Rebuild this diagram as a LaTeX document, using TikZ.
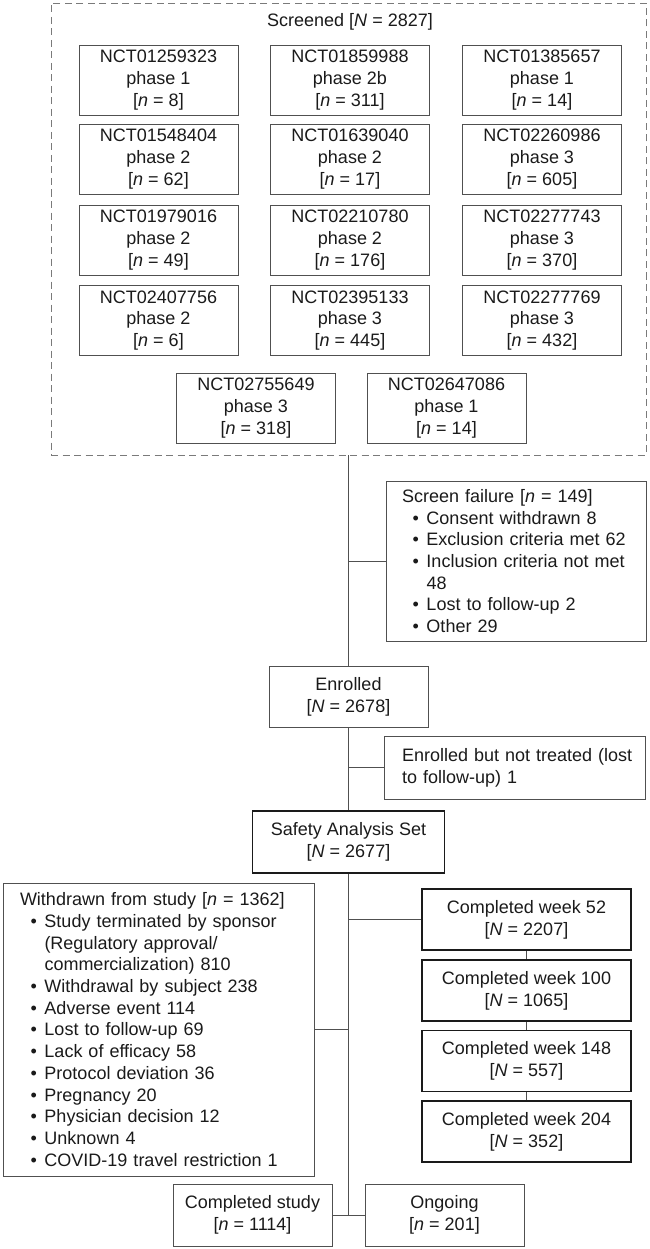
\documentclass[tikz,border=0pt]{standalone}
\usepackage{fontspec}
\setmainfont{Liberation Sans}
\definecolor{lc}{HTML}{505050}
\definecolor{tk}{HTML}{1A1A1A}
\definecolor{dg}{HTML}{7A7A7A}
\definecolor{txt}{HTML}{1A1A1A}
\newcommand\fs{\fontsize{18}{21.7}\selectfont}
\newcommand\nval[1]{[\textit{n} = #1]}
\newcommand\Nval[1]{[\textit{N} = #1]}
\newcommand\bli[1]{\mbox{\makebox[24.5pt][l]{\hspace{10.5pt}\textbullet}#1}}
\newcommand\cli[1]{\mbox{\hspace*{24.5pt}#1}}
\begin{document}
\begin{tikzpicture}[x=1pt,y=-1pt,
  every node/.style={font=\fs, text=txt},
  conn/.style={draw=lc, line width=0.9pt},
  bx/.style={draw=lc, line width=0.9pt, align=center, inner sep=0pt},
  tbx/.style={draw=tk, line width=1.8pt, align=center, inner sep=0pt},
  trial/.style={bx, minimum width=159pt, minimum height=70pt},
  lst/.style={draw=lc, line width=0.9pt, align=left, inner ysep=0pt},
  wk/.style={tbx, minimum width=209pt, minimum height=61pt}
]
\useasboundingbox (0,0) rectangle (649,1249);

% screened group
\node[draw=dg, line width=0.9pt, dash pattern=on 7pt off 4.5pt, minimum width=595pt, minimum height=452pt, inner sep=0pt] (scr) at (348.5,229) {};
\node[inner sep=0pt] (scrl) at (350,22) {Screened \Nval{2827}};

\node[trial] (t11) at (158.5,80)  {NCT01259323\\phase 1\\\nval{8}};
\node[trial] (t12) at (350,80)    {NCT01859988\\phase 2b\\\nval{311}};
\node[trial] (t13) at (542,80)    {NCT01385657\\phase 1\\\nval{14}};
\node[trial] (t21) at (158.5,159) {NCT01548404\\phase 2\\\nval{62}};
\node[trial] (t22) at (350,159)   {NCT01639040\\phase 2\\\nval{17}};
\node[trial] (t23) at (542,159)   {NCT02260986\\phase 3\\\nval{605}};
\node[trial] (t31) at (158.5,240) {NCT01979016\\phase 2\\\nval{49}};
\node[trial] (t32) at (350,240)   {NCT02210780\\phase 2\\\nval{176}};
\node[trial] (t33) at (542,240)   {NCT02277743\\phase 3\\\nval{370}};
\node[trial] (t41) at (158.5,320.5) {NCT02407756\\phase 2\\\nval{6}};
\node[trial] (t42) at (350,320.5)   {NCT02395133\\phase 3\\\nval{445}};
\node[trial] (t43) at (542,320.5)   {NCT02277769\\phase 3\\\nval{432}};
\node[trial] (t51) at (256,408)   {NCT02755649\\phase 3\\\nval{318}};
\node[trial] (t52) at (446.5,408) {NCT02647086\\phase 1\\\nval{14}};

% screen failure
\node[lst, minimum width=260pt, minimum height=160pt, text width=228pt, inner xsep=16pt] (sf) at (516,561)
  {\mbox{Screen failure \nval{149}}\\
   \bli{Consent withdrawn 8}\\
   \bli{Exclusion criteria met 62}\\
   \bli{Inclusion criteria not met}\\
   \cli{48}\\
   \bli{Lost to follow-up 2}\\
   \bli{Other 29}};

% enrolled
\node[bx, minimum width=159pt, minimum height=61pt] (enr) at (348.5,696.5) {Enrolled\\\Nval{2678}};

\node[lst, minimum width=261pt, minimum height=63pt, text width=225pt, inner xsep=18pt] (ent) at (514.5,767.5)
  {\mbox{Enrolled but not treated (lost}\\\mbox{to follow-up) 1}};

% safety
\node[tbx, minimum width=192pt, minimum height=62pt] (saf) at (348.5,842) {Safety Analysis Set\\\Nval{2677}};

% withdrawn
\node[lst, minimum width=311pt, minimum height=293pt, text width=277pt, inner xsep=17pt] (wd) at (158.5,1029.5)
  {\mbox{Withdrawn from study \nval{1362}}\\
   \bli{Study terminated by sponsor}\\
   \cli{(Regulatory approval/}\\
   \cli{commercialization) 810}\\
   \bli{Withdrawal by subject 238}\\
   \bli{Adverse event 114}\\
   \bli{Lost to follow-up 69}\\
   \bli{Lack of efficacy 58}\\
   \bli{Protocol deviation 36}\\
   \bli{Pregnancy 20}\\
   \bli{Physician decision 12}\\
   \bli{Unknown 4}\\
   \bli{COVID-19 travel restriction 1}};

% completed weeks
\node[wk] (w52)  at (526.5,919.5)  {Completed week 52\\\Nval{2207}};
\node[wk] (w100) at (526.5,990.5)  {Completed week 100\\\Nval{1065}};
\node[wk] (w148) at (526.5,1061)   {Completed week 148\\\Nval{557}};
\node[wk] (w204) at (526.5,1131.5) {Completed week 204\\\Nval{352}};

% final
\node[bx, minimum width=159pt, minimum height=62pt] (cs) at (252.5,1215) {Completed study\\\nval{1114}};
\node[bx, minimum width=159pt, minimum height=62pt] (og) at (444.5,1215) {Ongoing\\\nval{201}};

% connectors
\draw[conn] (scr.south) -- (enr.north);
\draw[conn] (sf.west) -- (sf.west -| enr.north);
\draw[conn] (enr.south) -- (saf.north);
\draw[conn] (ent.west) -- (ent.west -| enr.south);
\draw[conn] (saf.south) -- (saf.south |- cs.east);
\draw[conn] (cs.east) -- (og.west);
\draw[conn] (wd.east) -- (wd.east -| saf.south);
\draw[conn] (w52.west) -- (w52.west -| saf.south);
\draw[conn] (w52.south) -- (w100.north);
\draw[conn] (w100.south) -- (w148.north);
\draw[conn] (w148.south) -- (w204.north);
\end{tikzpicture}
\end{document}
